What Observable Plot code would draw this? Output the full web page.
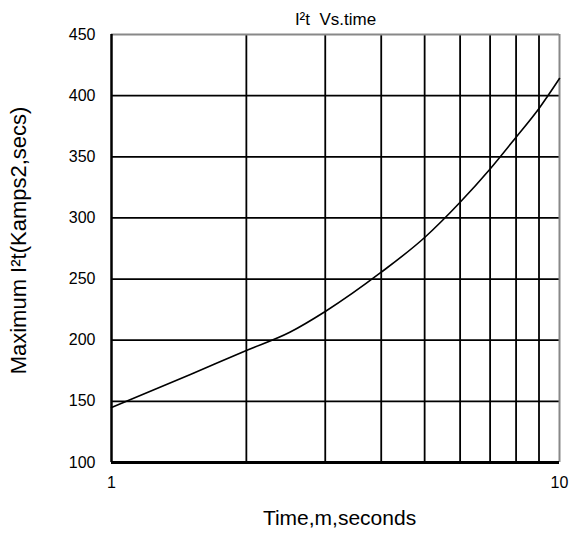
<!DOCTYPE html>
<html>
<head>
<meta charset="utf-8">
<script src="https://cdn.jsdelivr.net/npm/d3@7"></script>
<script src="https://cdn.jsdelivr.net/npm/@observablehq/plot@0.6"></script>
<style>
  html, body { margin: 0; padding: 0; background: #fff; }
  #chart { width: 584px; height: 541px; }
</style>
</head>
<body>
<div id="chart"></div>
<script>
const timeValues = [1, 1.5, 2, 2.5, 3, 4, 5, 6, 7, 8, 9, 10];
const i2tValues = [145, 172, 191.6, 206.5, 223.5, 255.6, 284, 312.8, 340, 366, 389.5, 414];
const xGrid = [2, 3, 4, 5, 6, 7, 8, 9];
const yGrid = [150, 200, 250, 300, 350, 400];
const xTicks = [1, 10];
const yTicks = [100, 150, 200, 250, 300, 350, 400, 450];
const titleText = "I\u00B2t  Vs.time";
const xLabel = "Time,m,seconds";
const yLabel = "Maximum I\u00B2t(Kamps2,secs)";

const data = timeValues.map((t, i) => ({t, v: i2tValues[i]}));

const chart = Plot.plot({
  width: 584,
  height: 541,
  marginLeft: 111,
  marginRight: 25,
  marginTop: 34,
  marginBottom: 79,
  style: {fontFamily: "'Liberation Sans', Arial, sans-serif", fontSize: "16px", color: "#000", background: "#fff"},
  x: {type: "log", domain: [1, 10]},
  y: {domain: [100, 450]},
  marks: [
    Plot.ruleX(xGrid, {stroke: "#000", strokeWidth: 1.8}),
    Plot.ruleY(yGrid, {stroke: "#000", strokeWidth: 1.8}),
    Plot.ruleY([450], {stroke: "#888", strokeWidth: 2}),
    Plot.ruleX([10], {stroke: "#888", strokeWidth: 2}),
    Plot.ruleX([1], {stroke: "#000", strokeWidth: 2.5}),
    Plot.ruleY([100], {stroke: "#000", strokeWidth: 3}),
    Plot.line(data, {x: "t", y: "v", stroke: "#000", strokeWidth: 1.6, curve: "monotone-x"}),
    Plot.axisY({ticks: yTicks, tickSize: 0, tickPadding: 16, fontSize: 16, label: null}),
    Plot.axisX({ticks: xTicks, tickSize: 0, tickPadding: 14, fontSize: 16, tickFormat: d => String(d), label: null}),
    Plot.text([titleText], {frameAnchor: "top", dy: -22, fontSize: 17, text: d => d}),
    Plot.text([xLabel], {frameAnchor: "bottom", dx: 4, dy: 62, fontSize: 21, text: d => d}),
    Plot.text([yLabel], {frameAnchor: "left", textAnchor: "middle", dx: -93, dy: -8, rotate: -90, fontSize: 22, text: d => d})
  ]
});
document.getElementById("chart").appendChild(chart);
</script>
</body>
</html>
